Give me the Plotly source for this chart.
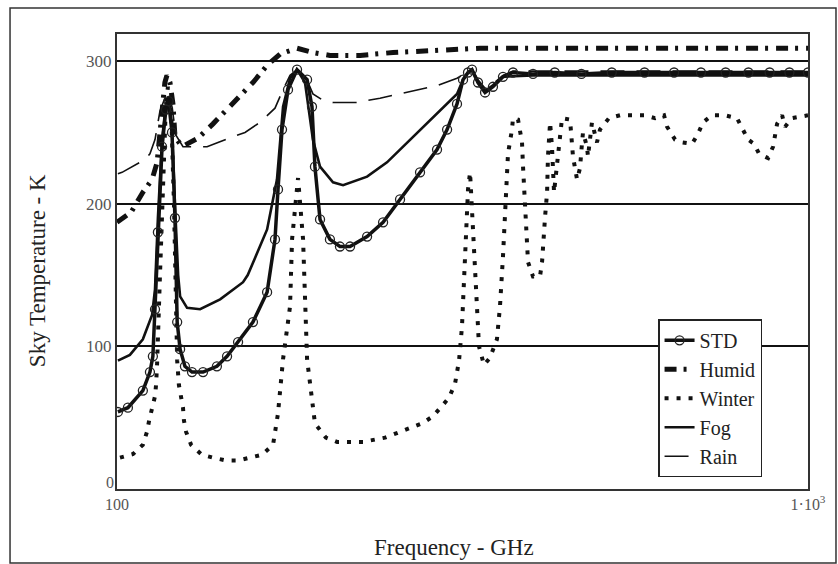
import plotly.graph_objects as go

# ---------------- data ----------------
std_f = [100.3, 103.7, 109.0, 111.6, 112.7, 113.5, 114.6, 116.2, 117.7, 118.75, 120.1, 121.3,
         122.2, 123.4, 125.4, 128.4, 133.2, 139.5, 144.3, 149.7, 157.3, 164.9, 169.3, 171.0,
         173.3, 176.8, 182.2, 188.4, 191.5, 193.4, 196.7, 203.3, 210.2, 217.4, 230.1, 242.7,
         256.8, 274.5, 290.5, 300.4, 310.5, 316.8, 322.1, 326.4, 333.0, 340.9, 350.0, 361.9,
         374.2, 400, 430, 470, 520, 580, 640, 700, 760, 820, 880, 940, 1000]
std_t = [54, 57, 69, 82, 93, 126, 180, 240, 266, 272, 250, 190,
         117, 98, 86, 82, 82, 86, 93, 103, 117, 138, 175, 210,
         252, 280, 294, 287, 268, 226, 189, 175, 170, 170, 177, 187,
         203, 222, 238, 252, 270, 287, 292, 294, 285, 278, 282, 289,
         292, 291, 292, 291, 292, 292, 292, 292, 292, 292, 292, 292, 292]

humid_f = [100.0, 104.8, 109.0, 112.4, 114.3, 115.8, 117.3, 118.1, 119.3, 120.5, 121.3, 124.2,
           131.0, 137.7, 144.3, 150.7, 157.3, 164.9, 172.2, 182.2, 192.1, 203.3, 224.8, 250.9,
           283.8, 335.3, 400, 500, 600, 700, 800, 900, 1000]
humid_t = [187, 194, 208, 217, 229, 260, 285, 290, 285, 270, 247, 240,
           246, 256, 266, 275, 285, 297, 305, 309, 306, 304, 304, 306,
           307, 309, 309, 309, 309, 309, 309, 309, 309]

winter_f = [101.0, 105.5, 109.0, 110.5, 111.3, 112.4, 113.5, 113.9, 114.3, 115.4, 116.6, 117.7,
            118.5, 119.7, 120.9, 121.7, 122.2, 122.9, 123.8, 124.6, 125.0, 125.9, 128.0, 132.7,
            137.7, 143.8, 149.7, 155.8, 162.1, 168.2, 171.0, 173.9, 178.0, 179.2, 182.8, 185.9,
            187.1, 188.4, 193.4, 200.6, 208.2, 227.0, 244.3, 261.9, 276.4, 286.7, 302.4, 308.5,
            312.6, 315.7, 318.9, 322.1, 324.3, 327.5, 330.7, 334.1, 339.7, 346.5, 354.7, 358.3,
            361.9, 364.3, 366.8, 368.0, 372.9, 374.2, 380.5, 385.6, 386.9, 389.5, 392.1, 393.4,
            400.0, 409.4, 412.2, 413.6, 416.4, 419.2, 420.4, 423.4, 426.1, 429.0, 431.8, 436.2,
            440.6, 452.5, 455.5, 457.0, 463.2, 467.8, 471.0, 472.5, 478.8, 480.4, 486.8, 495.0,
            500.0, 515.2, 534.5, 581.0, 600.6, 618.9, 625.2, 642.1, 657.3, 679.5, 693.1, 704.7,
            726.1, 758.4, 789.3, 805.2, 819.0, 835.4, 849.6, 875.5, 890.1, 896.1, 902.1, 917.3,
            926.5, 948.3, 1000]
winter_t = [22, 24.5, 31, 40, 48, 57, 65, 73, 88, 150, 220, 270,
            282, 270, 200, 130, 90, 73, 65, 57, 48, 40, 31, 24,
            22, 20, 20, 22, 24, 31, 53, 91, 128, 175, 218, 175,
            128, 91, 46, 36, 33, 33, 36, 42, 46, 51, 64, 74,
            90, 114, 170, 210, 222, 180, 130, 100, 87, 92, 105, 128,
            163, 198, 217, 235, 252, 260, 259, 243, 226, 198, 175, 159,
            149, 149, 159, 175, 191, 208, 233, 257, 240, 208, 222, 245,
            260, 259, 245, 233, 217, 225, 243, 250, 240, 233, 257, 243,
            252, 260, 262, 262, 260, 262, 254, 245, 243, 242, 249, 257,
            262, 262, 260, 252, 245, 242, 235, 232, 240, 248, 256, 262,
            254, 260, 262]

fog_f = [100.3, 104.4, 109.0, 112.4, 113.5, 114.6, 116.2, 117.7, 118.75, 120.1, 121.3, 122.6,
         123.4, 126.3, 131.9, 141.0, 152.2, 154.6, 158.4, 164.9, 170.4, 173.9, 178.0, 182.2,
         187.1, 192.1, 196.7, 205.4, 212.4, 230.1, 245.9, 256.8, 277.3, 300.4, 310.5, 316.8,
         322.1, 326.4, 333.0, 340.9, 350.0, 361.9, 400, 500, 700, 1000]
fog_t = [90, 94, 105, 122, 140, 190, 245, 270, 275, 255, 200, 150,
         135, 127, 126, 133, 145, 150, 162, 182, 217, 268, 288, 294,
         285, 245, 226, 215, 213, 219, 229, 238, 254, 270, 277, 287,
         292, 294, 285, 279, 283, 289, 290, 290, 290, 290]

rain_f = [100.3, 101.7, 109.8, 111.6, 113.5, 115.4, 117.7, 118.75, 120.1, 121.7, 124.6, 135.0,
          140.0, 153.2, 161.0, 169.3, 173.9, 178.0, 182.2, 187.1, 192.1, 198.0, 205.4, 222.5,
          240.2, 256.8, 274.5, 291.5, 310.5, 326.4, 333.0, 340.9, 350.0, 361.9, 374.2, 500,
          700, 1000]
rain_t = [221, 222, 231, 235, 245, 265, 276, 278, 268, 248, 240, 240,
          243, 250, 257, 267, 280, 290, 294, 290, 277, 273, 271, 271,
          274, 277, 280, 283, 288, 294, 287, 281, 284, 290, 293, 293,
          293, 293]

legend_names = ["STD", "Humid", "Winter", "Fog", "Rain"]
y_ticks = [100, 200, 300]
y_tick_text = ["100", "200", "300"]
y_zero_label = "0"
x_ticks = [100, 1000]
x_tick_text = ["100", "1\u00b710<sup>3</sup>"]

SERIF = "Liberation Serif"

fig = go.Figure()

fig.add_trace(go.Scatter(
    x=rain_f, y=rain_t, name=legend_names[4], mode="lines",
    line=dict(color="#111", width=1.6, dash="24px,12px")))
fig.add_trace(go.Scatter(
    x=fog_f, y=fog_t, name=legend_names[3], mode="lines",
    line=dict(color="#111", width=2.6)))
fig.add_trace(go.Scatter(
    x=winter_f, y=winter_t, name=legend_names[2], mode="lines",
    line=dict(color="#111", width=4, dash="4px,8px")))
fig.add_trace(go.Scatter(
    x=humid_f, y=humid_t, name=legend_names[1], mode="lines",
    line=dict(color="#111", width=5, dash="12px,7px,3px,8px")))
fig.add_trace(go.Scatter(
    x=std_f, y=std_t, name=legend_names[0], mode="lines+markers",
    line=dict(color="#111", width=3.5),
    marker=dict(symbol="circle-open", size=9, color="#222", line=dict(width=1.3))))

fig.update_layout(
    width=838, height=564,
    margin=dict(l=117, r=30, t=34, b=75),
    paper_bgcolor="white", plot_bgcolor="white",
    font=dict(family=SERIF, color="#222"),
    showlegend=True,
    legend=dict(
        x=0.783, y=0.373, xanchor="left", yanchor="top",
        bordercolor="#222", borderwidth=1.5, bgcolor="white",
        font=dict(family=SERIF, size=20, color="#222"),
        traceorder="reversed", tracegroupgap=0,
    ),
    xaxis=dict(
        type="log", range=[2, 3], showgrid=False, zeroline=False,
        showline=True, mirror=True, linecolor="#333", linewidth=2,
        tickvals=x_ticks, ticktext=x_tick_text, ticks="",
        tickfont=dict(family=SERIF, size=16, color="#555"),
    ),
    yaxis=dict(
        range=[0, 319], showgrid=True, gridcolor="#111", gridwidth=1.5,
        zeroline=False, showline=True, mirror=True, linecolor="#333", linewidth=2,
        tickvals=y_ticks, ticktext=y_tick_text, ticks="",
        tickfont=dict(family=SERIF, size=17, color="#555"),
    ),
    annotations=[
        dict(text=y_zero_label, xref="paper", yref="paper",
             x=0.0, y=0.015, xanchor="right", yanchor="middle", xshift=-1,
             showarrow=False,
             font=dict(family=SERIF, size=16, color="#555")),
        dict(text="Sky Temperature - K", xref="paper", yref="paper",
             x=-0.1158, y=0.481, textangle=-90, showarrow=False,
             xanchor="center", yanchor="middle",
             font=dict(family=SERIF, size=23, color="#222")),
        dict(text="Frequency - GHz", xref="paper", yref="paper",
             x=0.4877, y=-0.1275, showarrow=False,
             xanchor="center", yanchor="middle",
             font=dict(family=SERIF, size=23, color="#222")),
    ],
    shapes=[
        dict(type="rect", xref="paper", yref="paper",
             x0=-0.1548, x1=1.0405, y0=-0.1626, y1=1.0571,
             line=dict(color="#333", width=1.5)),
    ],
)

fig.write_html("out.html")
